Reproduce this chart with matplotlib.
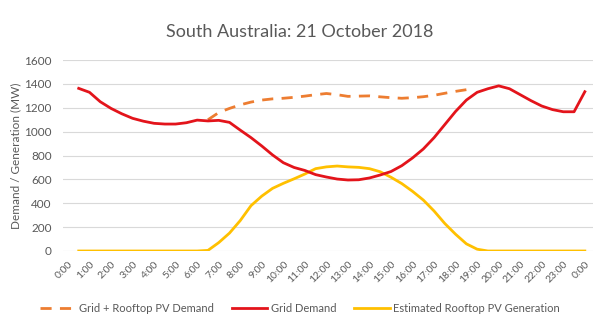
import matplotlib
matplotlib.use("Agg")
import matplotlib.pyplot as plt
from matplotlib.lines import Line2D

# ---- data ----
hours = [h / 2 for h in range(1, 49)]  # 0:30 .. 24:00
grid_demand = [1363, 1330, 1251, 1195, 1150, 1112, 1088, 1070, 1064, 1064,
               1075, 1097, 1090, 1095, 1078, 1013, 950, 880, 805, 740,
               700, 675, 640, 620, 603, 595, 597, 612, 637, 666,
               715, 780, 855, 950, 1060, 1170, 1265, 1330, 1360, 1384,
               1360, 1310, 1260, 1215, 1185, 1167, 1167, 1335]
pv_gen = [0, 0, 0, 0, 0, 0, 0, 0, 0, 0,
          0, 0, 5, 70, 150, 255, 380, 460, 525, 567,
          605, 645, 690, 705, 712, 705, 701, 690, 664, 618,
          565, 500, 427, 335, 230, 140, 60, 15, 0, 0,
          0, 0, 0, 0, 0, 0, 0, 0]
total_hours = [h / 2 for h in range(13, 38)]  # 6:30 .. 18:30
total_demand = [1100, 1160, 1195, 1225, 1248, 1265, 1275, 1280, 1288, 1298,
                1310, 1320, 1310, 1296, 1298, 1300, 1292, 1285, 1280, 1285,
                1293, 1305, 1322, 1338, 1352]
tick_labels = [f"{h}:00" for h in range(24)] + ["0:00"]
title = "South Australia: 21 October 2018"
ylabel = "Demand / Generation (MW)"
legend_labels = ["Grid + Rooftop PV Demand", "Grid Demand", "Estimated Rooftop PV Generation"]

RED = "#E3141B"
ORANGE = "#ED7D31"
YELLOW = "#FFC000"
GRAY = "#595959"

plt.rcParams['font.family'] = ['Lato', 'DejaVu Sans']

fig = plt.figure(figsize=(6.0, 3.32), dpi=100)
ax = fig.add_axes([0.105, 0.244, 0.883, 0.575])

ax.plot(hours, pv_gen, color=YELLOW, lw=2.0, solid_joinstyle='round', zorder=3)
ax.plot(hours, grid_demand, color=RED, lw=2.0, solid_joinstyle='round', zorder=4)
ax.plot(total_hours, total_demand, color=ORANGE, lw=2.0, dashes=(4, 3), zorder=2)

ax.set_ylim(0, 1600)
ax.set_yticks(range(0, 1601, 200))
ax.set_xlim(-0.23, 24.37)
ax.set_xticks(range(25))
ax.set_xticklabels(tick_labels, rotation=45, ha='right', rotation_mode='anchor',
                   fontsize=7.5, color=GRAY)
for lab in ax.get_yticklabels():
    lab.set_fontsize(8.5)
    lab.set_color(GRAY)
ax.tick_params(axis='both', length=0)
ax.tick_params(axis='x', pad=6)
ax.tick_params(axis='y', pad=8)
ax.grid(axis='y', color='#D9D9D9', lw=0.8)
ax.set_axisbelow(True)
for s in ax.spines.values():
    s.set_visible(False)

ax.set_ylabel(ylabel, fontsize=8.5, color=GRAY)
ax.yaxis.set_label_coords(-0.079, 0.5)
fig.text(0.5, 0.905, title, ha='center', va='center', fontsize=13, color=GRAY)

handles = [Line2D([], [], color=ORANGE, lw=2, dashes=(4, 3)),
           Line2D([], [], color=RED, lw=2),
           Line2D([], [], color=YELLOW, lw=2)]
fig.legend(handles, legend_labels, loc='center', bbox_to_anchor=(0.5, 0.07), ncol=3,
           frameon=False, fontsize=8, labelcolor=GRAY, handlelength=3.2,
           handletextpad=0.3, columnspacing=1.6)

fig.savefig("out.png", dpi=100, facecolor='white')
